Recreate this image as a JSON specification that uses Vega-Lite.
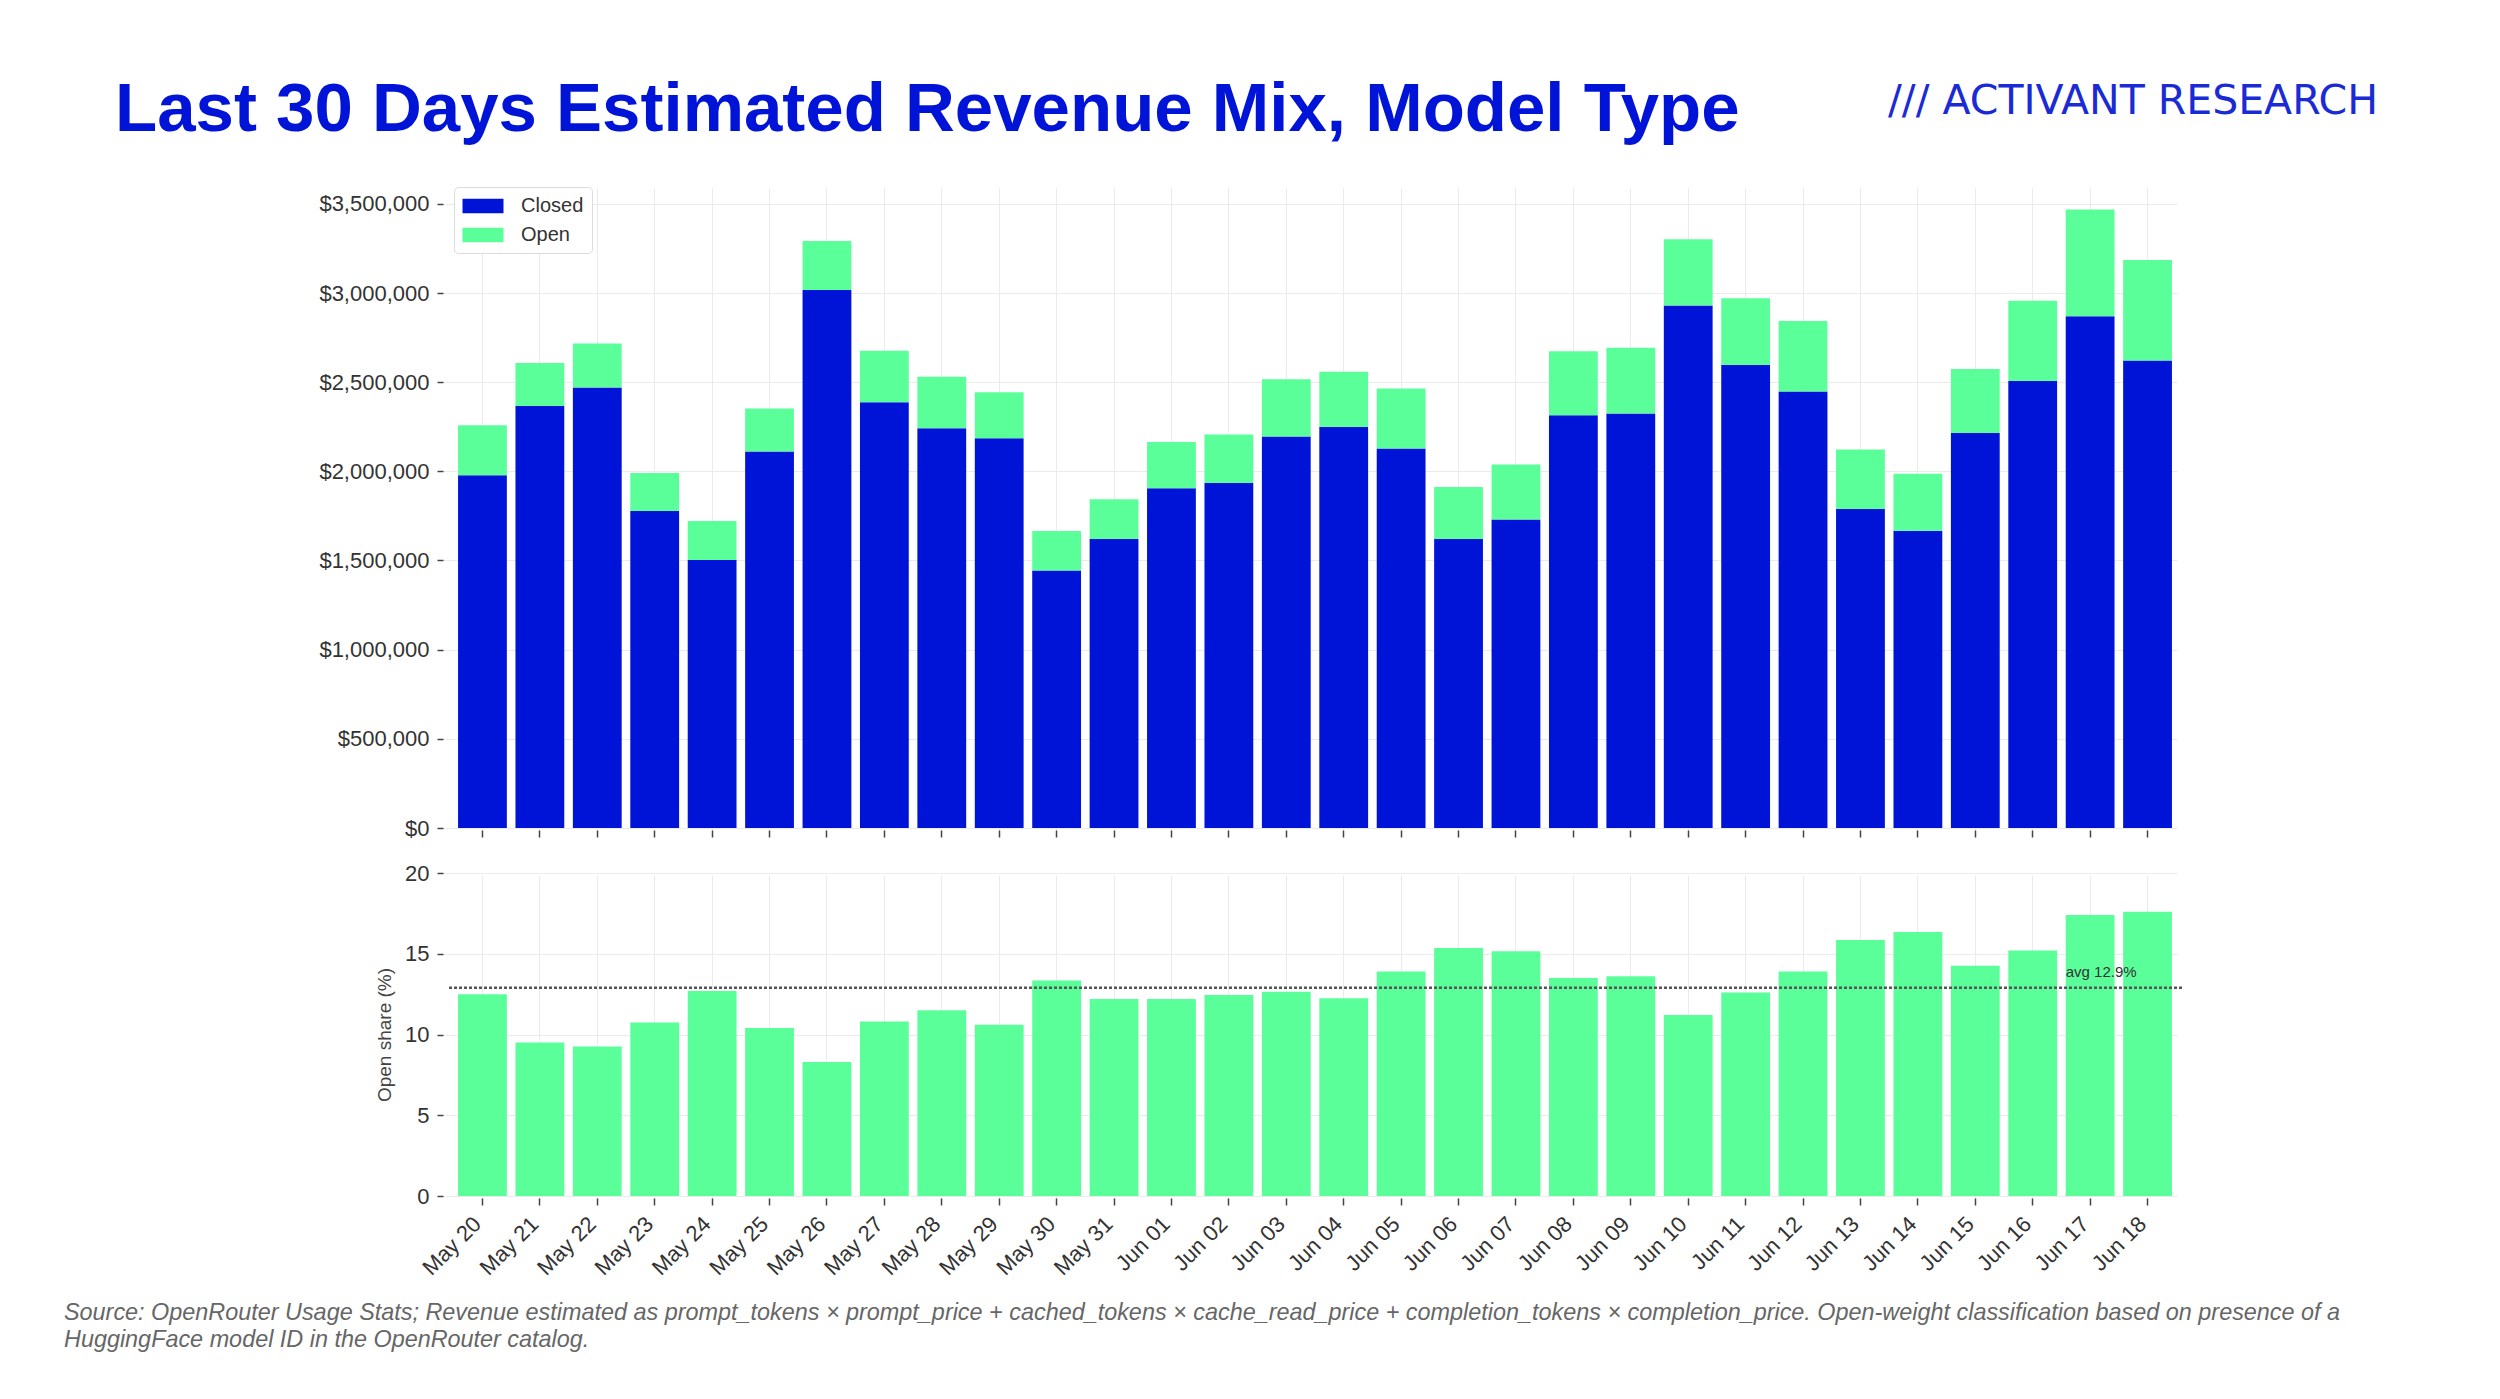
{
  "$schema": "https://vega.github.io/schema/vega-lite/v6.json",
  "background": "white",
  "autosize": {"type": "pad"},
  "padding": {"left": 64, "top": 76, "right": 0, "bottom": 0},
  "title": {
    "text": "/// ACTIVANT RESEARCH",
    "anchor": "start",
    "frame": "bounds",
    "orient": "top",
    "dx": 1824,
    "offset": -79,
    "baseline": "alphabetic",
    "font": "DejaVu Sans",
    "fontSize": 41,
    "fontWeight": "normal",
    "color": "#1a2bd6"
  },
  "datasets": {
    "rev": [
      {"day": "May 20", "type": "Closed", "revenue": 1978000}, {"day": "May 20", "type": "Open", "revenue": 281000},
      {"day": "May 21", "type": "Closed", "revenue": 2366000}, {"day": "May 21", "type": "Open", "revenue": 242000},
      {"day": "May 22", "type": "Closed", "revenue": 2470000}, {"day": "May 22", "type": "Open", "revenue": 247000},
      {"day": "May 23", "type": "Closed", "revenue": 1777000}, {"day": "May 23", "type": "Open", "revenue": 213000},
      {"day": "May 24", "type": "Closed", "revenue": 1503000}, {"day": "May 24", "type": "Open", "revenue": 218000},
      {"day": "May 25", "type": "Closed", "revenue": 2111000}, {"day": "May 25", "type": "Open", "revenue": 242000},
      {"day": "May 26", "type": "Closed", "revenue": 3017000}, {"day": "May 26", "type": "Open", "revenue": 274000},
      {"day": "May 27", "type": "Closed", "revenue": 2387000}, {"day": "May 27", "type": "Open", "revenue": 289000},
      {"day": "May 28", "type": "Closed", "revenue": 2242000}, {"day": "May 28", "type": "Open", "revenue": 288000},
      {"day": "May 29", "type": "Closed", "revenue": 2186000}, {"day": "May 29", "type": "Open", "revenue": 257000},
      {"day": "May 30", "type": "Closed", "revenue": 1444000}, {"day": "May 30", "type": "Open", "revenue": 221000},
      {"day": "May 31", "type": "Closed", "revenue": 1621000}, {"day": "May 31", "type": "Open", "revenue": 223000},
      {"day": "Jun 01", "type": "Closed", "revenue": 1905000}, {"day": "Jun 01", "type": "Open", "revenue": 259000},
      {"day": "Jun 02", "type": "Closed", "revenue": 1934000}, {"day": "Jun 02", "type": "Open", "revenue": 272000},
      {"day": "Jun 03", "type": "Closed", "revenue": 2196000}, {"day": "Jun 03", "type": "Open", "revenue": 320000},
      {"day": "Jun 04", "type": "Closed", "revenue": 2249000}, {"day": "Jun 04", "type": "Open", "revenue": 310000},
      {"day": "Jun 05", "type": "Closed", "revenue": 2128000}, {"day": "Jun 05", "type": "Open", "revenue": 337000},
      {"day": "Jun 06", "type": "Closed", "revenue": 1621000}, {"day": "Jun 06", "type": "Open", "revenue": 291000},
      {"day": "Jun 07", "type": "Closed", "revenue": 1730000}, {"day": "Jun 07", "type": "Open", "revenue": 308000},
      {"day": "Jun 08", "type": "Closed", "revenue": 2315000}, {"day": "Jun 08", "type": "Open", "revenue": 358000},
      {"day": "Jun 09", "type": "Closed", "revenue": 2324000}, {"day": "Jun 09", "type": "Open", "revenue": 369000},
      {"day": "Jun 10", "type": "Closed", "revenue": 2930000}, {"day": "Jun 10", "type": "Open", "revenue": 371000},
      {"day": "Jun 11", "type": "Closed", "revenue": 2596000}, {"day": "Jun 11", "type": "Open", "revenue": 375000},
      {"day": "Jun 12", "type": "Closed", "revenue": 2448000}, {"day": "Jun 12", "type": "Open", "revenue": 395000},
      {"day": "Jun 13", "type": "Closed", "revenue": 1789000}, {"day": "Jun 13", "type": "Open", "revenue": 334000},
      {"day": "Jun 14", "type": "Closed", "revenue": 1667000}, {"day": "Jun 14", "type": "Open", "revenue": 320000},
      {"day": "Jun 15", "type": "Closed", "revenue": 2215000}, {"day": "Jun 15", "type": "Open", "revenue": 359000},
      {"day": "Jun 16", "type": "Closed", "revenue": 2506000}, {"day": "Jun 16", "type": "Open", "revenue": 451000},
      {"day": "Jun 17", "type": "Closed", "revenue": 2870000}, {"day": "Jun 17", "type": "Open", "revenue": 598000},
      {"day": "Jun 18", "type": "Closed", "revenue": 2622000}, {"day": "Jun 18", "type": "Open", "revenue": 563000}
    ],
    "share": [
      {"day": "May 20", "share": 12.5}, {"day": "May 21", "share": 9.5}, {"day": "May 22", "share": 9.25},
      {"day": "May 23", "share": 10.75}, {"day": "May 24", "share": 12.7}, {"day": "May 25", "share": 10.4},
      {"day": "May 26", "share": 8.3}, {"day": "May 27", "share": 10.8}, {"day": "May 28", "share": 11.5},
      {"day": "May 29", "share": 10.6}, {"day": "May 30", "share": 13.35}, {"day": "May 31", "share": 12.2},
      {"day": "Jun 01", "share": 12.2}, {"day": "Jun 02", "share": 12.45}, {"day": "Jun 03", "share": 12.65},
      {"day": "Jun 04", "share": 12.25}, {"day": "Jun 05", "share": 13.9}, {"day": "Jun 06", "share": 15.35},
      {"day": "Jun 07", "share": 15.15}, {"day": "Jun 08", "share": 13.5}, {"day": "Jun 09", "share": 13.6},
      {"day": "Jun 10", "share": 11.2}, {"day": "Jun 11", "share": 12.6}, {"day": "Jun 12", "share": 13.9},
      {"day": "Jun 13", "share": 15.85}, {"day": "Jun 14", "share": 16.35}, {"day": "Jun 15", "share": 14.25},
      {"day": "Jun 16", "share": 15.2}, {"day": "Jun 17", "share": 17.4}, {"day": "Jun 18", "share": 17.6}
    ],
    "avg": [{"day": "Jun 17", "avg": 12.9, "label": "avg 12.9%"}]
  },
  "bounds": "flush",
  "spacing": 45,
  "vconcat": [
    {
      "width": 1734,
      "height": 642,
      "title": {
        "text": "Last 30 Days Estimated Revenue Mix, Model Type",
        "anchor": "start",
        "frame": "group",
        "dx": -333,
        "offset": -14,
        "baseline": "alphabetic",
        "font": "Liberation Sans",
        "fontSize": 69,
        "fontWeight": "bold",
        "color": "#0014D8"
      },
      "data": {"name": "rev"},
      "mark": {"type": "bar"},
      "encoding": {
        "x": {
          "field": "day",
          "type": "ordinal",
          "sort": null,
          "scale": {"paddingInner": 0.15, "paddingOuter": 0.175},
          "axis": {"labels": false, "title": null, "grid": true, "bandPosition": 0.5}
        },
        "y": {
          "field": "revenue",
          "type": "quantitative",
          "stack": "zero",
          "scale": {"domain": [0, 3600000], "nice": false},
          "axis": {
            "title": null,
            "format": "$,.0f",
            "values": [0, 500000, 1000000, 1500000, 2000000, 2500000, 3000000, 3500000]
          }
        },
        "order": {"field": "type", "type": "nominal", "sort": "ascending"},
        "color": {
          "field": "type",
          "type": "nominal",
          "scale": {"domain": ["Closed", "Open"], "range": ["#0014D8", "#5BFF9A"]},
          "legend": {
            "title": null,
            "orient": "none",
            "legendX": 6,
            "legendY": 1,
            "labelFontSize": 20,
            "labelColor": "#333333",
            "symbolType": "M-2,-0.7H2V0.7H-2Z",
            "symbolSize": 420,
            "symbolOffset": 10,
            "labelOffset": 27,
            "padding": 8,
            "rowPadding": 8,
            "strokeColor": "#dcdcdc",
            "fillColor": "white",
            "cornerRadius": 4
          }
        }
      }
    },
    {
      "width": 1734,
      "height": 323,
      "title": {
        "text": [
          "Source: OpenRouter Usage Stats; Revenue estimated as prompt_tokens × prompt_price + cached_tokens × cache_read_price + completion_tokens × completion_price. Open-weight classification based on presence of a",
          "HuggingFace model ID in the OpenRouter catalog."
        ],
        "orient": "bottom",
        "anchor": "start",
        "frame": "group",
        "dx": -384,
        "offset": 23,
        "fontSize": 23.4,
        "lineHeight": 27,
        "fontStyle": "italic",
        "fontWeight": "normal",
        "color": "#666666"
      },
      "encoding": {
        "x": {
          "field": "day",
          "type": "ordinal",
          "sort": null,
          "scale": {"paddingInner": 0.15, "paddingOuter": 0.175},
          "axis": {
            "title": null,
            "labelAngle": -45,
            "labelPadding": 8,
            "labelOffset": -12,
            "grid": true,
            "bandPosition": 0.5
          }
        }
      },
      "layer": [
        {
          "data": {"name": "share"},
          "mark": {"type": "bar", "color": "#5BFF9A"},
          "encoding": {
            "y": {
              "field": "share",
              "type": "quantitative",
              "scale": {"domain": [0, 20], "nice": false},
              "axis": {"title": "Open share (%)", "values": [0, 5, 10, 15, 20], "titlePadding": 10, "titleFontSize": 19}
            }
          }
        },
        {
          "data": {"name": "avg"},
          "mark": {"type": "rule", "color": "#555555", "strokeWidth": 2.5, "strokeDash": [3, 2]},
          "encoding": {
            "x": null,
            "y": {"field": "avg", "type": "quantitative"}
          }
        },
        {
          "data": {"name": "avg"},
          "mark": {"type": "text", "baseline": "bottom", "dx": 11, "dy": -8, "fontSize": 15, "color": "#333333"},
          "encoding": {
            "y": {"field": "avg", "type": "quantitative"},
            "text": {"field": "label"}
          }
        }
      ]
    }
  ],
  "config": {
    "font": "Liberation Sans",
    "view": {"stroke": null},
    "axis": {
      "domain": false,
      "gridColor": "#ebebeb",
      "gridWidth": 1,
      "tickColor": "#444444",
      "tickWidth": 1.5,
      "labelColor": "#333333",
      "labelFontSize": 22,
      "titleColor": "#444444",
      "titleFontWeight": "normal"
    },
    "axisY": {"offset": 5, "tickSize": 6, "labelPadding": 8},
    "axisX": {"offset": 2, "tickSize": 7, "labelPadding": 4}
  }
}
